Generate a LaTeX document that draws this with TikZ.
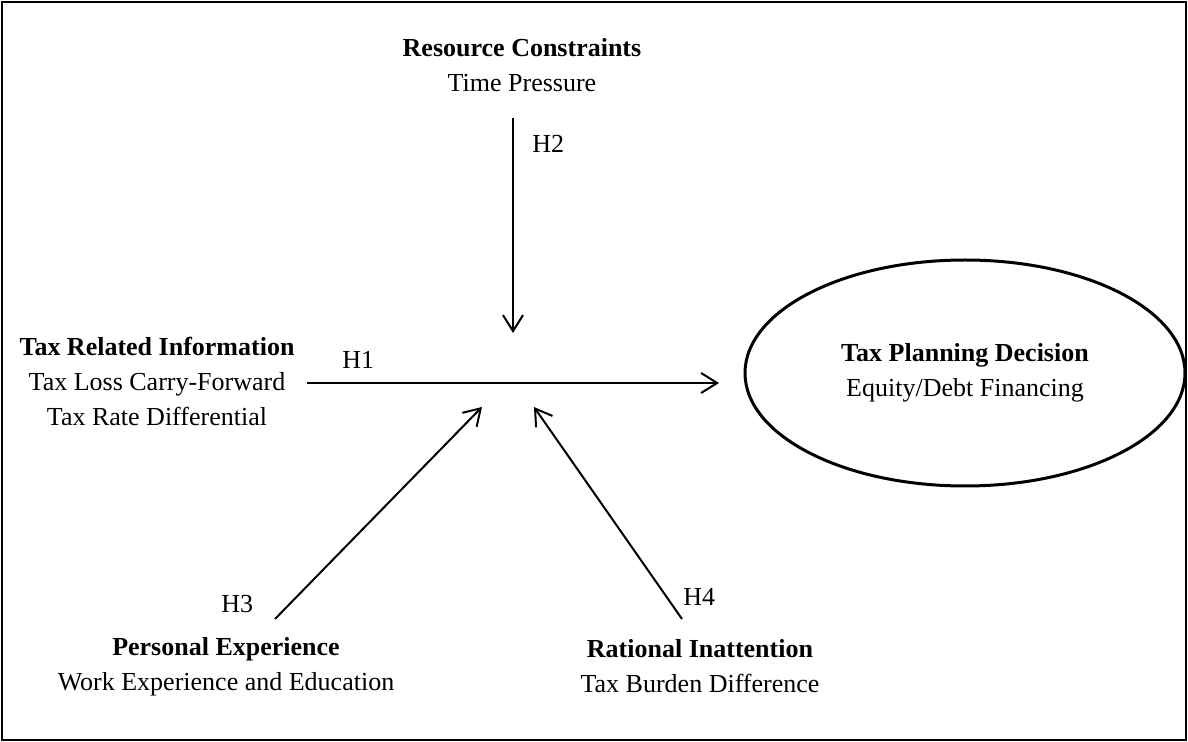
\documentclass[tikz,border=0pt]{standalone}
\usepackage{fontspec}
\setmainfont{Liberation Serif}
\usetikzlibrary{arrows.meta,shapes.geometric}
\begin{document}
\begin{tikzpicture}[x=0.5pt,y=-0.5pt,
    font=\fontsize{13}{17.5}\selectfont,
    every node/.style={inner sep=0pt},
    factor/.style={align=center,anchor=base},
    hyp/.style={-{Straight Barb[length=8pt,width=10pt]},line width=1pt},
    hlabel/.style={anchor=base west}]
    \useasboundingbox (0,0) rectangle (1188,742);
    \draw[line width=1.3pt] (2,2) rectangle (1186,740);
    % the four influences (placed at the baseline of their last line)
    \node[factor] (res) at (522,92) {\textbf{Resource Constraints}\\Time Pressure};
    \node[factor] (info) at (157,426) {\textbf{Tax Related Information}\\Tax Loss Carry-Forward\\Tax Rate Differential};
    \node[factor] (pers) at (226,690) {\textbf{Personal Experience}\\Work Experience and Education};
    \node[factor] (rat) at (700,692) {\textbf{Rational Inattention}\\Tax Burden Difference};
    % the outcome
    \node[draw,ellipse,line width=1.5pt,minimum width=220pt,minimum height=113pt,align=center]
        (tpd) at (965,373) {\textbf{Tax Planning Decision}\\Equity/Debt Financing};
    % end points of the hypotheses
    \coordinate (h1s) at (307,383);
    \coordinate (h1e) at (719,383);
    \coordinate (h2s) at (513,118);
    \coordinate (h2e) at (513,333);
    \coordinate (h3s) at (275,619);
    \coordinate (h3e) at (482,407);
    \coordinate (h4s) at (682,619);
    \coordinate (h4e) at (534,407);
    \draw[hyp] (h1s) -- (h1e);
    \draw[hyp] (h2s) -- (h2e);
    \draw[hyp] (h3s) -- (h3e);
    \draw[hyp] (h4s) -- (h4e);
    \node[hlabel] (lh1) at (342,369) {H1};
    \node[hlabel] (lh2) at (532,153) {H2};
    \node[hlabel] (lh3) at (221,612) {H3};
    \node[hlabel] (lh4) at (683,605) {H4};
\end{tikzpicture}
\end{document}
